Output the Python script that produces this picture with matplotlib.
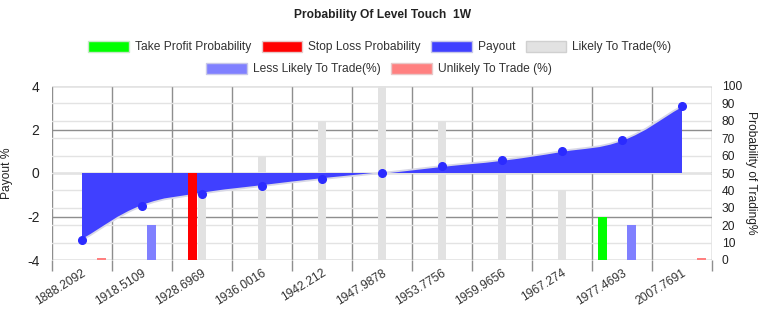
import matplotlib
matplotlib.use("Agg")
import matplotlib.pyplot as plt
import numpy as np
from matplotlib.path import Path
from matplotlib.patches import PathPatch, Patch

plt.rcParams['font.family'] = ['Liberation Sans', 'DejaVu Sans']

# ---------------- data ----------------
categories = ["1888.2092", "1918.5109", "1928.6969", "1936.0016", "1942.212",
              "1947.9878", "1953.7756", "1959.9656", "1967.274", "1977.4693",
              "2007.7691"]
payout = [-3.08, -1.52, -0.95, -0.6, -0.28, 0.0, 0.32, 0.6, 1.01, 1.52, 3.08]
take_profit = [0, 0, 0, 0, 0, 0, 0, 0, 0, 25, 0]
stop_loss = [0, 0, 50, 0, 0, 0, 0, 0, 0, 0, 0]
likely = [0, 0, 45, 60, 80, 100, 80, 50, 40, 0, 0]
less_likely = [0, 20, 0, 0, 0, 0, 0, 0, 0, 20, 0]
unlikely = [1, 0, 0, 0, 0, 0, 0, 0, 0, 0, 1]

title = "Probability Of Level Touch  1W"
legend_labels = ["Take Profit Probability", "Stop Loss Probability", "Payout",
                 "Likely To Trade(%)", "Less Likely To Trade(%)", "Unlikely To Trade (%)"]

# ---------------- style ----------------
C_TP = "#00ff00"
C_SL = "#ff0000"
C_PAY = "#4040ff"
C_LIKELY = "#e2e2e2"
C_LESS = "#8080ff"
C_UNL = "#ff8080"
C_DARK = "#8e8e8e"
C_LIGHT = "#e3e3e3"

W, H = 769, 318
fig = plt.figure(figsize=(W / 100, H / 100), dpi=100)
L, R, T, B = 52, 712, 86, 260
pos = [L / W, 1 - B / H, (R - L) / W, (B - T) / H]

n = len(categories)
x = np.arange(n)
xlim = (-0.5, n - 0.5)
ylim_pay = (-4, 4)
ylim_prob = (0, 100)

FS = 8.64  # 12px

# layer 1: payout scale with dark grid and vertical grid
axL = fig.add_axes(pos, zorder=1)
axL.set_xlim(*xlim)
axL.set_ylim(*ylim_pay)
axL.set_yticks([-4, -2, 0, 2, 4])
axL.set_yticklabels(["-4", "-2", "0", "2", "4"], fontsize=10.0, color='#222222')
axL.tick_params(axis='y', length=0, pad=9)
axL.set_xticks(np.arange(-0.5, n, 1.0))
axL.set_xticklabels([])
axL.tick_params(axis='x', length=8, color=C_DARK, width=1)
axL.set_xticks(x, minor=True)
axL.set_xticklabels(categories, minor=True, rotation=32, ha='right',
                    rotation_mode='anchor', fontsize=FS, color='#333333')
axL.tick_params(axis='x', which='minor', length=0, pad=5)
axL.grid(True, axis='both', which='major', color=C_DARK, lw=1)
for s in axL.spines.values():
    s.set_visible(False)
axL.set_ylabel("Payout %", fontsize=FS, color='#222222')
axL.yaxis.set_label_coords(-39 / (R - L), 0.5)
axL.set_axisbelow(True)

# layer 2: probability scale, background bars
axR = fig.add_axes(pos, zorder=2)
axR.patch.set_alpha(0)
axR.set_xlim(*xlim)
axR.set_ylim(*ylim_prob)
axR.set_xticks([])
axR.yaxis.tick_right()
axR.yaxis.set_label_position('right')
axR.set_yticks(np.arange(0, 101, 10))
axR.tick_params(axis='y', length=0, pad=7, labelsize=FS, labelcolor='#222222')
axR.grid(True, axis='y', color=C_LIGHT, lw=1)
axR.set_axisbelow(True)
for s in axR.spines.values():
    s.set_visible(False)
axR.set_ylabel("Probability of Trading%", fontsize=FS, rotation=270, color='#222222')
axR.yaxis.set_label_coords(1 + 45 / (R - L), 0.5)

grp = 0.8
bw = grp / 5
width = bw * 0.9
off = lambda i: -grp / 2 + bw * (i + 0.5)
axR.bar(x + off(2), likely, width, color=C_LIKELY, zorder=2)
axR.bar(x + off(3), less_likely, width, color=C_LESS, zorder=2)
axR.bar(x + off(4), unlikely, width, color=C_UNL, zorder=2)

# layer 3: payout curve
axP = fig.add_axes(pos, zorder=3)
axP.patch.set_alpha(0)
axP.set_xlim(*xlim)
axP.set_ylim(*ylim_pay)
axP.axis('off')

# Chart.js-like spline (tension 0.4), computed in pixel space
sx = (R - L) / (xlim[1] - xlim[0])
sy = (B - T) / (ylim_pay[1] - ylim_pay[0])
px = x * sx
py = np.array(payout) * sy
t = 0.4
cp_prev, cp_next = [], []
for i in range(n):
    pi = max(i - 1, 0)
    ni = min(i + 1, n - 1)
    d01 = np.hypot(px[i] - px[pi], py[i] - py[pi])
    d12 = np.hypot(px[ni] - px[i], py[ni] - py[i])
    tot = d01 + d12
    s01 = d01 / tot if tot else 0
    s12 = d12 / tot if tot else 0
    fa, fb = t * s01, t * s12
    cp_prev.append(((px[i] - fa * (px[ni] - px[pi])) / sx, (py[i] - fa * (py[ni] - py[pi])) / sy))
    cp_next.append(((px[i] + fb * (px[ni] - px[pi])) / sx, (py[i] + fb * (py[ni] - py[pi])) / sy))

verts = [(x[0], payout[0])]
codes = [Path.MOVETO]
for i in range(n - 1):
    verts += [cp_next[i], cp_prev[i + 1], (x[i + 1], payout[i + 1])]
    codes += [Path.CURVE4] * 3
line_path = Path(verts, codes)
fill_path = Path([(x[0], 0)] + verts + [(x[-1], 0), (x[0], 0)],
                 [Path.MOVETO, Path.LINETO] + codes[1:] + [Path.LINETO, Path.CLOSEPOLY])
axP.add_patch(PathPatch(fill_path, facecolor=C_PAY, edgecolor='none', zorder=2))
axP.add_patch(PathPatch(line_path, facecolor='none', edgecolor='#d8d8e6', lw=1.3, zorder=3))
axP.plot(x, payout, 'o', color='#2b2bff', ms=5.5, mec='#2b2bff', zorder=4)

# layer 4: foreground bars
axT = fig.add_axes(pos, zorder=4)
axT.patch.set_alpha(0)
axT.set_xlim(*xlim)
axT.set_ylim(*ylim_prob)
axT.axis('off')
axT.bar(x + off(0), take_profit, width, color=C_TP, zorder=2)
axT.bar(x + off(1), stop_loss, width, color=C_SL, zorder=2)

# title
fig.text(383 / W, 1 - 15 / H, title, ha='center', va='center',
         fontsize=FS, fontweight='bold', color='#222222')

# legend
face = [C_TP, C_SL, C_PAY, C_LIKELY, C_LESS, C_UNL]
edge = ["#c8e8c8", "#e8c8c8", "#c8c8e8", "#d0d0d0", "#c8c8e8", "#e8c8c8"]
handles = [Patch(facecolor=f, edgecolor=e, lw=1) for f, e in zip(face, edge)]
kw = dict(frameon=False, fontsize=FS, handlelength=3.4, handleheight=1.0,
          handletextpad=0.5, columnspacing=0.85, loc='center', borderaxespad=0,
          labelcolor='#333333')
fig.legend(handles[:4], legend_labels[:4], ncol=4,
           bbox_to_anchor=(380 / W, 1 - 47 / H), **kw)
fig.legend(handles[4:], legend_labels[4:], ncol=2,
           bbox_to_anchor=(379 / W, 1 - 69 / H), **kw)

fig.savefig("out.png", dpi=100)
